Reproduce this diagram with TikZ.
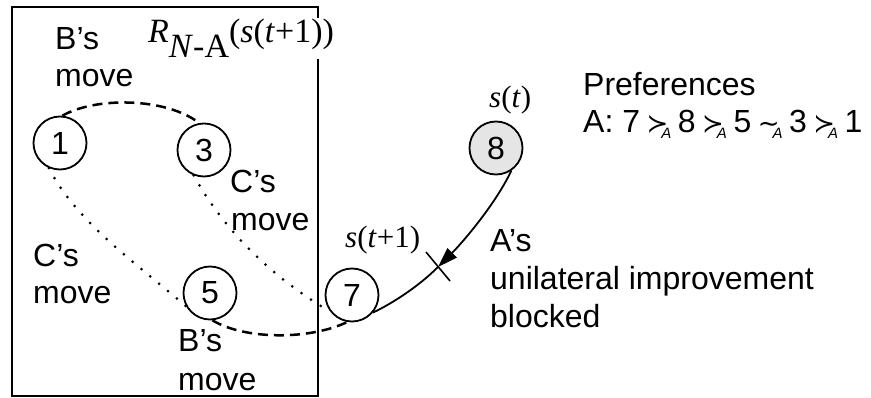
\documentclass[tikz,border=0pt]{standalone}
\usepackage{fontspec}
\setmainfont{Liberation Sans}
\newfontfamily\tms{Liberation Serif}
\newfontfamily\djv{DejaVu Sans}
\usetikzlibrary{arrows.meta}
\newcommand\relA[1]{\hspace{6.5pt}{\djv\fontsize{26}{26}\selectfont #1}\kern-7pt\raisebox{-6pt}{\fontsize{15}{15}\selectfont\itshape A}\hspace{6.5pt}}
\begin{document}
\begin{tikzpicture}[x=1pt,y=-1pt,
  st/.style={circle, draw, line width=1.8pt, minimum size=53pt, inner sep=0pt, font=\fontsize{32}{36}\selectfont},
  lbl/.style={anchor=base west, inner sep=0pt, font=\fontsize{32}{38}\selectfont},
  mlbl/.style={anchor=base west, inner sep=0pt, font=\fontsize{31}{36}\selectfont\tms},
  dashedarc/.style={line width=2.5pt, dash pattern=on 10pt off 6pt},
  dottedarc/.style={line width=3pt, line cap=round, dash pattern=on 0pt off 11.5pt},
  conn/.style={line width=1.8pt}]
\useasboundingbox (0,0) rectangle (871,398);
\draw[line width=2.5pt] (12,7) rectangle (318,396);

\node[st] (n1) at (60,143) {1};
\node[st] (n3) at (204,150) {3};
\node[st] (n5) at (210,293) {5};
\node[st] (n7) at (352,295) {7};
\node[st, fill=gray!20] (n8) at (496,148) {8};

\draw[dashedarc] (n1.85) .. controls (95,97) and (165,97) .. (n3.100);
\draw[dashedarc] (n5.-85) .. controls (245,340) and (310,340) .. (n7.-100);
\draw[dottedarc] (n1.-114) .. controls (75,220) and (133,261) .. (n5.209);
\draw[dottedarc] (n3.-112) .. controls (226,234) and (275,279) .. (n7.217);

\coordinate (x) at (438,267);
\coordinate (xa) at (426,252);
\coordinate (xb) at (450,281);
\draw[conn, -{Triangle[length=20pt,width=13pt]}] (n8.-56) .. controls (495,205) and (462,243) .. (x);
\draw[conn] (x) .. controls (420,285) and (395,302) .. (n7.-40);
\draw[line width=1.6pt] (xa) -- (xb);

\node[lbl] (b1) at (55,50) {B’s};
\node[lbl] (b2) at (55,87) {move};
\node[mlbl, fill=white, inner sep=1pt, font=\fontsize{34}{38}\selectfont\tms] (rl) at (147,43) {\textit{R}\raisebox{-15pt}{\textit{N}-A}(\textit{s}(\textit{t}+1))};
\node[lbl] (c1) at (230,193) {C’s};
\node[lbl] (c2) at (231,231) {move};
\node[lbl] (c3) at (33,267) {C’s};
\node[lbl] (c4) at (33,304) {move};
\node[lbl] (b3) at (178,352) {B’s};
\node[lbl] (b4) at (178,390) {move};

\node[mlbl] (st) at (489,108) {\textit{s}(\textit{t})};
\node[mlbl] (st1) at (345,248) {\textit{s}(\textit{t}+1)};
\node[lbl] (pr) at (583,96) {Preferences};
\node[lbl] (pa) at (583,133) {A: 7\relA{≻}8\relA{≻}5\relA{∼}3\relA{≻}1};
\node[lbl] (a1) at (490,252) {A’s};
\node[lbl] (a2) at (490,290) {unilateral improvement};
\node[lbl] (a3) at (490,328) {blocked};
\end{tikzpicture}
\end{document}
